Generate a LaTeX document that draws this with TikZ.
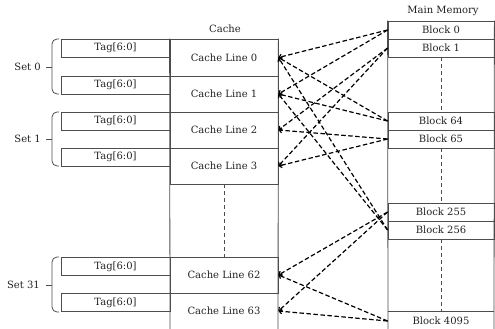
\documentclass[tikz,border=0pt]{standalone}
\usepackage{fontspec}
\setmainfont{DejaVu Serif}
\usetikzlibrary{arrows.meta}
\definecolor{boxgray}{HTML}{4D4D4D}
\definecolor{txt}{HTML}{222222}
\begin{document}
\begin{tikzpicture}[x=1pt,y=-1pt,
  txtfont/.style={font=\fontsize{10}{12}\selectfont},
  box/.style={draw=boxgray,line width=0.8pt,inner sep=0pt,text=txt,txtfont},
  cline/.style={box,minimum width=108pt,minimum height=36pt},
  tagbox/.style={box,minimum width=109pt,minimum height=18pt},
  blk/.style={box,minimum width=106pt,minimum height=18pt},
  lbl/.style={text=txt,inner sep=0pt,txtfont},
  edge/.style={draw=boxgray,line width=0.8pt},
  conn/.style={line width=1.2pt,dash pattern=on 4.5pt off 2.5pt,-{Straight Barb[length=2.5pt,width=5pt]}},
  vdash/.style={draw=boxgray,line width=0.7pt,dash pattern=on 4pt off 3pt},
  setbrace/.style={draw=boxgray,line width=0.8pt,rounded corners=5pt}
]
\useasboundingbox (0,0) rectangle (495,329);

% titles
\node[lbl] (cachetitle) at (225,29) {Cache};
\node[lbl] (memtitle) at (443,11) {Main Memory};

% cache lines
\node[cline,minimum height=37pt] (c0) at (224,57.5) {Cache Line 0};
\node[cline] (c1) at (224,94) {Cache Line 1};
\node[cline] (c2) at (224,130) {Cache Line 2};
\node[cline] (c3) at (224,166) {Cache Line 3};
\node[cline] (c62) at (224,275) {Cache Line 62};
\node[cline,draw=none] (c63) at (224,311) {Cache Line 63};
\draw[edge] (c0.north west) -- (170,329);
\draw[edge] (c0.north east) -- (278,329);
\draw[vdash] (c3.south) -- (c62.north);

% tags
\node[tagbox] (t0) at (115.5,48) {Tag[6:0]};
\node[tagbox] (t1) at (115.5,85) {Tag[6:0]};
\node[tagbox] (t2) at (115.5,121) {Tag[6:0]};
\node[tagbox] (t3) at (115.5,157) {Tag[6:0]};
\node[tagbox] (t62) at (115.5,266.5) {Tag[6:0]};
\node[tagbox] (t63) at (115.5,302.5) {Tag[6:0]};

% sets
\node[lbl,anchor=east] (s0) at (41,67) {Set 0};
\node[lbl,anchor=east] (s1) at (41,139) {Set 1};
\node[lbl,anchor=east] (s31) at (40,285) {Set 31};
\draw[setbrace] (59,39) -- (52,39) -- (52,94) -- (59,94);
\draw[setbrace] (59,112) -- (52,112) -- (52,166) -- (59,166);
\draw[setbrace] (59,257) -- (52,257) -- (52,312) -- (59,312);
\draw[edge] (46,67) -- (52,67);
\draw[edge] (46,139) -- (52,139);
\draw[edge] (46,285) -- (52,285);

% main memory
\node[blk] (b0) at (441,30) {Block 0};
\node[blk] (b1) at (441,48) {Block 1};
\node[blk] (b64) at (441,121) {Block 64};
\node[blk] (b65) at (441,139) {Block 65};
\node[blk] (b255) at (441,212) {Block 255};
\node[blk] (b256) at (441,230) {Block 256};
\node[blk,draw=none] (b4095) at (441,321) {Block 4095};
\draw[edge] (b4095.north west) -- (b4095.north east);
\draw[edge] (b0.north west) -- (388,329);
\draw[edge] (b0.north east) -- (494,329);
\draw[vdash] (b1.south) -- (b64.north);
\draw[vdash] (b65.south) -- (b255.north);
\draw[vdash] (b256.south) -- (b4095.north);

% connectors
\draw[conn] (b0.west) -- (c0.east);
\draw[conn] (b0.west) -- (c1.east);
\draw[conn] (b1.west) -- (c2.east);
\draw[conn] (b1.west) -- (c3.east);
\draw[conn] (b64.west) -- (c0.east);
\draw[conn] (b64.west) -- (c1.east);
\draw[conn] (b65.west) -- (c2.east);
\draw[conn] (b65.west) -- (c3.east);
\draw[conn] (b256.west) -- (c0.east);
\draw[conn] (b256.west) -- (c1.east);
\draw[conn] (b255.west) -- (c62.east);
\draw[conn] (b255.west) -- (c63.east);
\draw[conn] (b4095.west) -- (c62.east);
\draw[conn] (b4095.west) -- (c63.east);
\end{tikzpicture}
\end{document}
